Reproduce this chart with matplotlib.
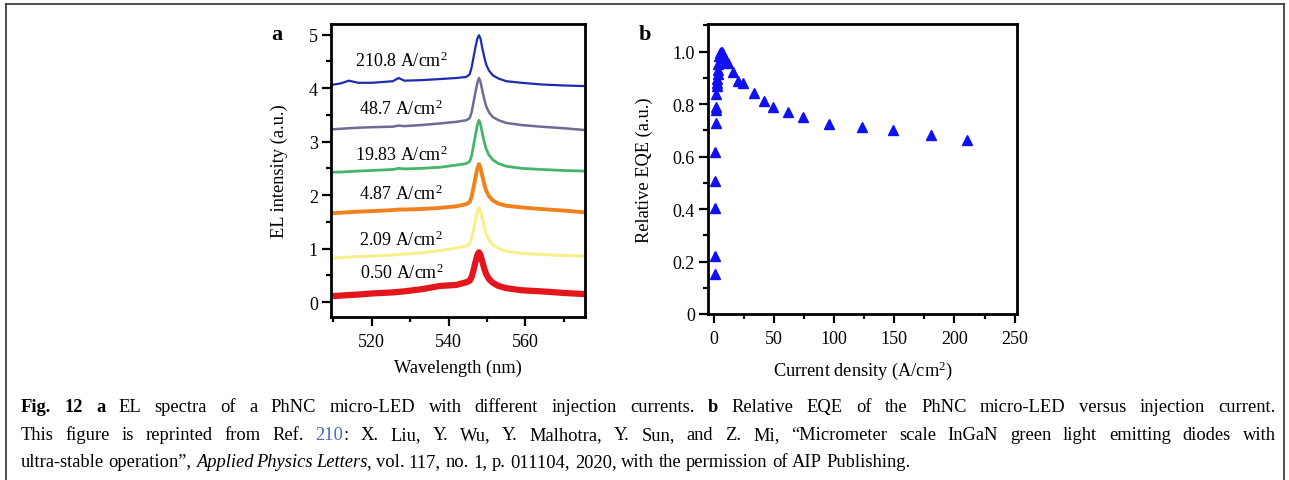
import matplotlib
matplotlib.use("Agg")
import matplotlib.pyplot as plt
from matplotlib.ticker import MultipleLocator, FixedLocator
from matplotlib.lines import Line2D

# ---------------- data ----------------
wavelength = [509.5, 512, 514, 516.5, 520, 525.5, 527, 528.5, 533, 537.7, 542,
              544.6, 545.5, 546.0, 546.5, 547.0, 547.5, 547.9, 548.3, 548.8, 549.3,
              549.8, 550.5, 551.5, 553, 555, 559, 564, 570, 575]

spec_210_8 = [4.06, 4.09, 4.14, 4.10, 4.10, 4.13, 4.19, 4.14, 4.15, 4.17, 4.19,
              4.21, 4.26, 4.39, 4.58, 4.77, 4.93, 4.99, 4.93, 4.74, 4.58,
              4.44, 4.33, 4.24, 4.18, 4.13, 4.10, 4.07, 4.05, 4.04]
spec_48_7 = [3.23, 3.24, 3.25, 3.26, 3.27, 3.28, 3.30, 3.29, 3.31, 3.34, 3.37,
             3.40, 3.44, 3.55, 3.74, 3.93, 4.10, 4.19, 4.12, 3.95, 3.79,
             3.66, 3.55, 3.46, 3.40, 3.35, 3.31, 3.28, 3.25, 3.22]
spec_19_83 = [2.43, 2.43, 2.44, 2.45, 2.46, 2.48, 2.50, 2.49, 2.50, 2.52, 2.56,
              2.59, 2.63, 2.74, 2.93, 3.13, 3.31, 3.40, 3.33, 3.15, 2.99,
              2.86, 2.75, 2.66, 2.59, 2.54, 2.50, 2.48, 2.46, 2.45]
spec_4_87 = [1.66, 1.67, 1.68, 1.69, 1.70, 1.72, 1.73, 1.73, 1.74, 1.76, 1.79,
             1.83, 1.87, 1.97, 2.14, 2.33, 2.50, 2.58, 2.51, 2.35, 2.20,
             2.08, 1.98, 1.90, 1.84, 1.80, 1.77, 1.74, 1.71, 1.68]
spec_2_09 = [0.82, 0.83, 0.84, 0.85, 0.86, 0.88, 0.89, 0.90, 0.92, 0.96, 1.01,
             1.05, 1.09, 1.18, 1.35, 1.53, 1.70, 1.77, 1.71, 1.55, 1.40,
             1.27, 1.16, 1.07, 1.00, 0.95, 0.91, 0.89, 0.87, 0.86]
spec_0_50 = [0.11, 0.12, 0.13, 0.14, 0.16, 0.18, 0.19, 0.20, 0.24, 0.30, 0.32,
             0.37, 0.40, 0.47, 0.60, 0.75, 0.88, 0.93, 0.88, 0.75, 0.62,
             0.52, 0.43, 0.36, 0.30, 0.26, 0.22, 0.20, 0.17, 0.15]

spectra = [spec_0_50, spec_2_09, spec_4_87, spec_19_83, spec_48_7, spec_210_8]
spec_labels = ["0.50 A/cm$^{2}$", "2.09 A/cm$^{2}$", "4.87 A/cm$^{2}$",
               "19.83 A/cm$^{2}$", "48.7 A/cm$^{2}$", "210.8 A/cm$^{2}$"]
label_y = [0.56, 1.18, 2.04, 2.76, 3.63, 4.52]
label_x = [527.8, 527.5, 527.5, 527.8, 527.5, 527.7]

current_density = [0.5, 0.6, 0.8, 1.0, 1.2, 1.4, 1.6, 1.7, 2.0, 2.3, 2.5, 2.7, 3.0,
                   3.2, 3.5, 4.0, 4.87, 5.5, 6.5, 7.5, 8.5, 10.3, 11.7, 15.8, 19.83,
                   24.5, 33.3, 41.4, 48.7, 61.7, 73.7, 95.6, 122.8, 148.6, 180.3, 210.8]
relative_eqe = [0.152, 0.222, 0.403, 0.505, 0.618, 0.726, 0.778, 0.790, 0.837, 0.867,
                0.882, 0.897, 0.914, 0.930, 0.952, 0.983, 0.995, 1.0, 1.0, 0.99, 0.975,
                0.965, 0.955, 0.922, 0.888, 0.882, 0.841, 0.810, 0.789, 0.769, 0.749,
                0.723, 0.711, 0.702, 0.681, 0.662]

# ---------------- style ----------------
SERIF = "Liberation Serif"
plt.rcParams["font.family"] = [SERIF, "DejaVu Serif"]
plt.rcParams["mathtext.fontset"] = "custom"
plt.rcParams["mathtext.rm"] = SERIF
plt.rcParams["mathtext.it"] = SERIF + ":italic"
plt.rcParams["mathtext.bf"] = SERIF + ":bold"

W, H = 1289, 481
fig = plt.figure(figsize=(W / 100, H / 100), dpi=100)

def ax_rect(l, r, t, b):
    return [l / W, 1 - b / H, (r - l) / W, (b - t) / H]

colors = ["#e3161b", "#f6f08a", "#f0821e", "#45b56c", "#6c6c96", "#1d2cae"]
lws = [4.5, 2.2, 2.8, 2.0, 1.8, 1.6]

TICK_FS = 13
LAB_FS = 13.2

def style_axes(ax):
    for s in ax.spines.values():
        s.set_linewidth(2.0)
        s.set_color("black")
    ax.tick_params(which="major", direction="out", length=6.5, width=1.6,
                   labelsize=TICK_FS, top=False, right=False)
    ax.tick_params(which="minor", direction="out", length=3.5, width=1.6,
                   top=False, right=False)
    ax.tick_params(axis="x", which="major", pad=5)
    ax.tick_params(axis="y", which="major", pad=3)

# ---------------- panel a ----------------
axa = fig.add_axes(ax_rect(331, 585, 25, 318))
for y, c, lw in zip(spectra, colors, lws):
    axa.plot(wavelength, y, color=c, lw=lw, solid_joinstyle="round")
for lx, ly, lab in zip(label_x, label_y, spec_labels):
    axa.text(lx, ly, lab, ha="center", va="center", fontsize=13)
axa.set_xlim(509.4, 575.5)
axa.set_ylim(-0.28, 5.2)
axa.xaxis.set_major_locator(FixedLocator([520, 540, 560]))
axa.xaxis.set_minor_locator(FixedLocator([510, 530, 550, 570]))
axa.yaxis.set_major_locator(MultipleLocator(1))
axa.yaxis.set_minor_locator(MultipleLocator(0.5))
style_axes(axa)
axa.set_xlabel("Wavelength (nm)", fontsize=LAB_FS, labelpad=6.5)
axa.set_ylabel("EL intensity (a.u.)", fontsize=LAB_FS, labelpad=15)

# ---------------- panel b ----------------
axb = fig.add_axes(ax_rect(708, 1017, 25, 315))
axb.plot(current_density, relative_eqe, ls="none", marker="^", ms=7.5,
         color="#1010f0", mec="#1010f0")
axb.set_xlim(-5, 252)
axb.set_ylim(0, 1.105)
axb.xaxis.set_major_locator(MultipleLocator(50))
axb.xaxis.set_minor_locator(MultipleLocator(25))
axb.yaxis.set_major_locator(FixedLocator([0, 0.2, 0.4, 0.6, 0.8, 1.0]))
axb.yaxis.set_minor_locator(MultipleLocator(0.1))
axb.set_yticklabels(["0", "0.2", "0.4", "0.6", "0.8", "1.0"])
style_axes(axb)
axb.set_xlabel("Current density (A/cm$^{2}$)", fontsize=LAB_FS, labelpad=8)
axb.set_ylabel("Relative EQE (a.u.)", fontsize=LAB_FS, labelpad=14)

# panel letters
fig.text(276.7 / W, 1 - 35 / H, "a", fontsize=16, fontweight="bold", ha="center", va="center")
fig.text(645 / W, 1 - 35 / H, "b", fontsize=16, fontweight="bold", ha="center", va="center")

# ---------------- caption ----------------
LINK = "#4a6cb8"
caption_lines = [
    ([[("Fig.", "bold", "normal", "k")], [("12", "bold", "normal", "k")], [("a", "bold", "normal", "k")]]
     + [[(w, "normal", "normal", "k")] for w in "EL spectra of a PhNC micro-LED with different injection currents.".split()]
     + [[("b", "bold", "normal", "k")]]
     + [[(w, "normal", "normal", "k")] for w in "Relative EQE of the PhNC micro-LED versus injection current.".split()],
     True),
    ([[(w, "normal", "normal", "k")] for w in "This figure is reprinted from Ref.".split()]
     + [[("210", "normal", "normal", LINK), (":", "normal", "normal", "k")]]
     + [[(w, "normal", "normal", "k")] for w in "X. Liu, Y. Wu, Y. Malhotra, Y. Sun, and Z. Mi, \u201cMicrometer scale InGaN green light emitting diodes with".split()],
     True),
    ([[(w, "normal", "normal", "k")] for w in "ultra-stable operation\u201d,".split()]
     + [[(w, "normal", "italic", "k")] for w in "Applied Physics".split()]
     + [[("Letters", "normal", "italic", "k"), (",", "normal", "normal", "k")]]
     + [[(w, "normal", "normal", "k")] for w in "vol. 117, no. 1, p. 011104, 2020, with the permission of AIP Publishing.".split()],
     False),
]
cap_fs = 13.3
baselines = [412.5, 440, 467]
x_left, x_right = 20.5, 1275.5

renderer = fig.canvas.get_renderer()

def measure(txt, weight, style):
    t = fig.text(0, 0, txt, fontsize=cap_fs, fontweight=weight, fontstyle=style)
    w = t.get_window_extent(renderer).width
    t.remove()
    if style == "italic":
        w -= 1.5
    return w

space_w = measure("a a", "normal", "normal") - 2 * measure("a", "normal", "normal")

for (words, justify), base in zip(caption_lines, baselines):
    widths = []
    for word in words:
        widths.append(sum(measure(p[0], p[1], p[2]) for p in word))
    if justify:
        gap = (x_right - x_left - sum(widths)) / (len(words) - 1)
    else:
        gap = space_w
    x = x_left
    for word, ww in zip(words, widths):
        xx = x
        for txt, weight, style, col in word:
            fig.text(xx / W, 1 - base / H, txt, fontsize=cap_fs, fontweight=weight,
                     fontstyle=style, color=col, ha="left", va="baseline")
            xx += measure(txt, weight, style)
        x += ww + gap

# frame around figure
fc = "#303030"
fig.add_artist(Line2D([5.5 / W, 5.5 / W], [0, 1 - 4.5 / H], color=fc, lw=1.2))
fig.add_artist(Line2D([1283.5 / W, 1283.5 / W], [0, 1 - 4.5 / H], color=fc, lw=1.2))
fig.add_artist(Line2D([5.5 / W, 1283.5 / W], [1 - 4.5 / H, 1 - 4.5 / H], color=fc, lw=1.2))

fig.savefig("out.png", dpi=100)
